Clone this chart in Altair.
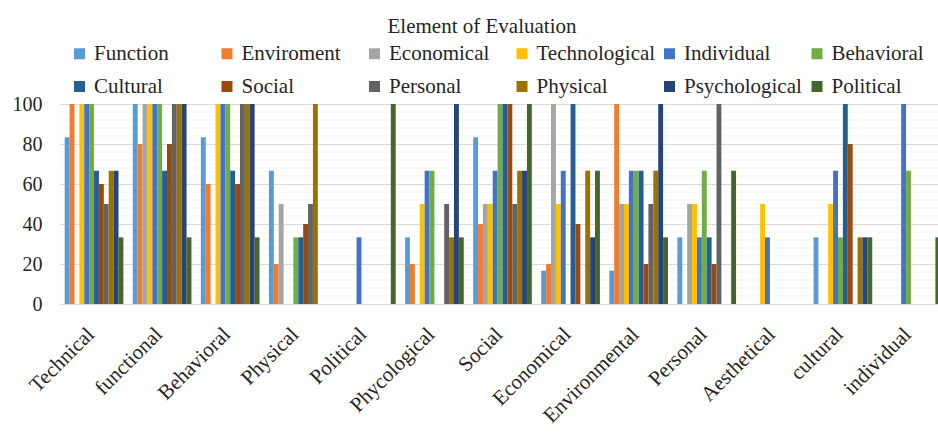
import altair as alt
import pandas as pd

# Categories on the x axis
categories = [
    "Technical", "functional", "Behavioral", "Physical", "Political",
    "Phycological", "Social", "Economical", "Environmental", "Personal",
    "Aesthetical", "cultural", "individual",
]

# Series (elements of evaluation), in legend order
series = [
    "Function", "Enviroment", "Economical", "Technological", "Individual",
    "Behavioral", "Cultural", "Social", "Personal", "Physical",
    "Psychological", "Political",
]

colors = [
    "#5B9BD5", "#ED7D31", "#A5A5A5", "#FFC000", "#4472C4", "#70AD47",
    "#255E91", "#9E480E", "#636363", "#997300", "#264478", "#43682B",
]

# Values per series, one entry per category
function_vals      = [83.33, 100, 83.33, 66.67, 0, 33.33, 83.33, 16.67, 16.67, 33.33, 0, 33.33, 0]
enviroment_vals    = [100, 80, 60, 20, 0, 20, 40, 20, 100, 0, 0, 0, 0]
economical_vals    = [0, 100, 0, 50, 0, 0, 50, 100, 50, 50, 0, 0, 0]
technological_vals = [100, 100, 100, 0, 0, 50, 50, 50, 50, 50, 50, 50, 0]
individual_vals    = [100, 100, 100, 0, 33.33, 66.67, 66.67, 66.67, 66.67, 33.33, 33.33, 66.67, 100]
behavioral_vals    = [100, 100, 100, 33.33, 0, 66.67, 100, 0, 66.67, 66.67, 0, 33.33, 66.67]
cultural_vals      = [66.67, 66.67, 66.67, 33.33, 0, 0, 100, 100, 66.67, 33.33, 0, 100, 0]
social_vals        = [60, 80, 60, 40, 0, 0, 100, 40, 20, 20, 0, 80, 0]
personal_vals      = [50, 100, 100, 50, 0, 50, 50, 0, 50, 100, 0, 0, 0]
physical_vals      = [66.67, 100, 100, 100, 0, 33.33, 66.67, 66.67, 66.67, 0, 0, 33.33, 0]
psychological_vals = [66.67, 100, 100, 0, 0, 100, 66.67, 33.33, 100, 0, 0, 33.33, 0]
political_vals     = [33.33, 33.33, 33.33, 0, 100, 33.33, 100, 66.67, 33.33, 66.67, 0, 33.33, 33.33]

all_vals = [
    function_vals, enviroment_vals, economical_vals, technological_vals,
    individual_vals, behavioral_vals, cultural_vals, social_vals,
    personal_vals, physical_vals, psychological_vals, political_vals,
]

major_ticks = [0, 20, 40, 60, 80, 100]
minor_ticks = [v for v in range(4, 100, 4) if v % 20 != 0]

rows = []
for name, vals in zip(series, all_vals):
    for cat, v in zip(categories, vals):
        rows.append({"category": cat, "series": name, "value": v})
df = pd.DataFrame(rows)
minor_df = pd.DataFrame({"value": minor_ticks})

FONT = "Liberation Serif"
TEXT = "#262626"

y_scale = alt.Scale(domain=[0, 100])
y_axis = alt.Axis(
    title=None, values=major_ticks, labelFont=FONT, labelFontSize=20,
    labelColor=TEXT, ticks=False, domain=False, labelPadding=18,
    gridColor="#D9D9D9",
)

# faint minor gridlines between the major ones
minor_grid = alt.Chart(minor_df).mark_rule(color="#F3F3F3", strokeWidth=1).encode(
    y=alt.Y("value:Q", scale=y_scale, axis=y_axis)
)

bars = alt.Chart(df).mark_bar().encode(
    x=alt.X(
        "category:N",
        sort=categories,
        scale=alt.Scale(range=[0, 885], paddingInner=0.138, paddingOuter=0.069),
        axis=alt.Axis(
            title=None, labelAngle=-45, labelFont=FONT, labelFontSize=21,
            labelColor=TEXT, ticks=False, domainColor="#D9D9D9",
            labelAlign="right", labelBaseline="middle",
            labelPadding=27, labelOffset=-3, grid=False,
        ),
    ),
    xOffset=alt.XOffset("series:N", sort=series,
                        scale=alt.Scale(paddingInner=0, paddingOuter=0)),
    y=alt.Y("value:Q", scale=y_scale, axis=y_axis),
    color=alt.Color(
        "series:N",
        sort=series,
        scale=alt.Scale(domain=series, range=colors),
        legend=alt.Legend(
            orient="none", legendX=9, legendY=-61, direction="horizontal",
            columns=6, title=None, symbolType="square", symbolSize=121,
            symbolStrokeWidth=0, symbolOpacity=1, labelFont=FONT,
            labelFontSize=21, labelColor=TEXT, gridAlign="all",
            columnPadding=3.5, rowPadding=11, labelOffset=4, padding=0,
        ),
    ),
)

chart = (
    alt.layer(minor_grid, bars)
    .properties(
        width=878,
        height=200,
        autosize=alt.AutoSizeParams(type="none"),
        padding={"left": 60, "top": 104, "right": 0, "bottom": 130},
        title=alt.TitleParams(
            "Element of Evaluation", font=FONT, fontSize=21,
            fontWeight="normal", color=TEXT, anchor="middle", dx=-17, offset=6,
        ),
    )
    .configure_view(stroke=None)
    .configure_legend(labelFont=FONT, labelFontSize=21)
)

chart.save("out.html", embed_options={"renderer": "svg", "actions": False})
